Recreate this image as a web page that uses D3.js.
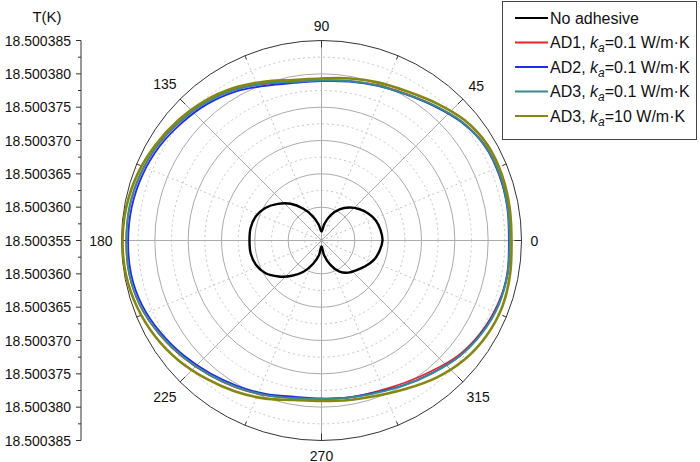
<!DOCTYPE html>
<html>
<head>
<meta charset="utf-8">
<script src="https://cdn.jsdelivr.net/npm/d3@7/dist/d3.min.js"></script>
<style>
  html, body { margin: 0; padding: 0; background: #fff; }
  svg { display: block; font-family: "Liberation Sans", Arial, sans-serif; }
</style>
</head>
<body>
<svg id="chart" width="700" height="462"></svg>
<script>
// ---- data (angle in degrees, temperature in K) ----
const angles = [0,10,20,30,40,50,60,70,80,90,100,110,120,130,140,150,160,170,
                180,190,200,210,220,230,240,250,260,270,280,290,300,310,320,330,340,350];

const noAdhesive = [18.50036415,18.500364,18.5003637,18.5003631,18.50036235,18.50036145,18.5003604,18.50035905,18.50035755,18.50035635,
  18.5003574,18.5003589,18.50036055,18.5003622,18.50036355,18.50036475,18.5003655,18.5003658,18.5003658,18.5003658,
  18.5003655,18.50036475,18.5003634,18.5003619,18.5003604,18.50035875,18.50035725,18.5003559,18.50035725,18.5003589,
  18.5003604,18.5003613,18.5003619,18.50036265,18.5003634,18.50036385];

const ad1 = [18.5003832,18.5003834,18.5003835,18.5003834,18.5003826,18.5003814,18.5003804,18.5003798,18.5003793,18.5003790,
  18.5003792,18.5003800,18.5003811,18.5003820,18.5003827,18.5003834,18.5003839,18.5003842,18.5003843,18.5003843,
  18.5003839,18.5003831,18.5003822,18.5003813,18.5003805,18.5003797,18.5003790,18.5003788,18.5003789,18.5003791,
  18.5003797,18.5003806,18.5003818,18.5003826,18.5003831,18.5003834];

const ad2 = [18.5003831,18.5003833,18.5003834,18.5003833,18.5003825,18.5003813,18.5003803,18.5003797,18.5003792,18.5003789,
  18.5003790,18.5003797,18.5003808,18.5003817,18.5003824,18.5003831,18.5003836,18.5003839,18.5003840,18.5003840,
  18.5003836,18.5003828,18.5003819,18.5003810,18.5003802,18.5003795,18.5003788,18.5003787,18.5003789,18.5003792,
  18.5003800,18.5003809,18.5003820,18.5003827,18.5003832,18.5003833];

const ad3Low = [18.5003832,18.50038335,18.5003835,18.50038335,18.5003826,18.5003814,18.50038035,18.50037975,18.5003793,18.500379,
  18.50037915,18.50038005,18.5003811,18.500382,18.50038275,18.50038343,18.50038395,18.50038425,18.50038425,18.50038425,
  18.50038388,18.50038305,18.50038215,18.50038125,18.50038043,18.50037968,18.500379,18.50037878,18.50037893,18.5003793,
  18.50038005,18.50038095,18.500382,18.5003828,18.50038328,18.50038335];

const ad3High = [18.5003835,18.50038365,18.5003838,18.50038373,18.50038305,18.50038185,18.5003808,18.5003802,18.50037968,18.5003793,
  18.50037945,18.50038035,18.5003814,18.5003823,18.50038305,18.50038373,18.50038433,18.5003847,18.50038485,18.50038478,
  18.5003844,18.5003838,18.50038298,18.500382,18.5003811,18.5003802,18.5003793,18.50037908,18.5003793,18.50037975,
  18.50038065,18.50038185,18.5003829,18.50038358,18.50038388,18.50038373];

const radialTicks = [18.500355,18.500360,18.500365,18.500370,18.500375,18.500380,18.500385];
const radialTickLabels = ["18.500355","18.500360","18.500365","18.500370","18.500375","18.500380","18.500385"];
const angleTicks = [0,45,90,135,180,225,270,315];
const angleTickLabels = ["0","45","90","135","180","225","270","315"];

const seriesNames = ["No adhesive","AD1","AD2","AD3","AD3"];
const seriesK = ["", "0.1", "0.1", "0.1", "10"];
const seriesColors = ["#000000","#e3262b","#1f2fe6","#3a8a8c","#868612"];
const seriesData = [noAdhesive, ad1, ad2, ad3Low, ad3High];

// ---- layout ----
const svg = d3.select("#chart");
const cx = 321.5, cy = 240.5, R = 200;
const rScale = d3.scaleLinear().domain([18.500355, 18.500385]).range([0, R]);
const toRad = d => (90 - d) * Math.PI / 180; // d3 radial angle (clockwise from 12 o'clock)

const g = svg.append("g").attr("transform", `translate(${cx},${cy})`);

// grid rings: solid at major, dotted at minor
const minorRings = d3.range(0, 6).map(i => 18.5003575 + 0.000005 * i);
g.selectAll("circle.minor").data(minorRings).enter().append("circle")
  .attr("r", d => rScale(d)).attr("fill", "none")
  .attr("stroke", "#c4c4c4").attr("stroke-width", 1).attr("stroke-dasharray", "2,3");
g.selectAll("circle.major").data(radialTicks.slice(1, -1)).enter().append("circle")
  .attr("r", d => rScale(d)).attr("fill", "none")
  .attr("stroke", "#ababab").attr("stroke-width", 1);

// spokes
const minorSpokes = d3.range(0, 360, 45).map(a => a + 22.5);
g.selectAll("line.ms").data(minorSpokes).enter().append("line")
  .attr("x1", 0).attr("y1", 0)
  .attr("x2", d => R * Math.cos(d * Math.PI / 180)).attr("y2", d => -R * Math.sin(d * Math.PI / 180))
  .attr("stroke", "#c4c4c4").attr("stroke-width", 1).attr("stroke-dasharray", "2,3");
g.selectAll("line.sp").data(angleTicks).enter().append("line")
  .attr("x1", 0).attr("y1", 0)
  .attr("x2", d => R * Math.cos(d * Math.PI / 180)).attr("y2", d => -R * Math.sin(d * Math.PI / 180))
  .attr("stroke", "#ababab").attr("stroke-width", 1);

// outer circle + ticks
g.append("circle").attr("r", R).attr("fill", "none").attr("stroke", "#333").attr("stroke-width", 1);
g.selectAll("line.tk").data(angleTicks).enter().append("line")
  .attr("x1", d => R * Math.cos(d * Math.PI / 180)).attr("y1", d => -R * Math.sin(d * Math.PI / 180))
  .attr("x2", d => (R - 7) * Math.cos(d * Math.PI / 180)).attr("y2", d => -(R - 7) * Math.sin(d * Math.PI / 180))
  .attr("stroke", "#333").attr("stroke-width", 1);
g.selectAll("line.mtk").data(minorSpokes).enter().append("line")
  .attr("x1", d => R * Math.cos(d * Math.PI / 180)).attr("y1", d => -R * Math.sin(d * Math.PI / 180))
  .attr("x2", d => (R - 4) * Math.cos(d * Math.PI / 180)).attr("y2", d => -(R - 4) * Math.sin(d * Math.PI / 180))
  .attr("stroke", "#333").attr("stroke-width", 1);

// angle labels
const labelFont = 14;
angleTicks.forEach((a, i) => {
  const t = angleTickLabels[i];
  const hw = t.length * labelFont * 0.556 / 2, hh = 6;
  const rad = a * Math.PI / 180;
  const rr = R + 9 + hw * Math.abs(Math.cos(rad)) + hh * Math.abs(Math.sin(rad));
  g.append("text")
    .attr("x", rr * Math.cos(rad)).attr("y", -rr * Math.sin(rad))
    .attr("text-anchor", "middle").attr("dominant-baseline", "central")
    .attr("font-size", labelFont).attr("fill", "#111").text(t);
});

// series
const line = d3.lineRadial()
  .angle(d => toRad(d[0]))
  .radius(d => rScale(d[1]))
  .curve(d3.curveCatmullRomClosed.alpha(0.5));
const widths = [2.4, 1.6, 1.8, 2.0, 2.6];
seriesData.forEach((vals, i) => {
  g.append("path")
    .datum(angles.map((a, j) => [a, vals[j]]))
    .attr("d", line).attr("fill", "none")
    .attr("stroke", seriesColors[i]).attr("stroke-width", widths[i])
    .attr("stroke-linejoin", "round");
});

// left radial axis (mirrored)
const axisX = 81;
const yScaleTop = d3.scaleLinear().domain([18.500355, 18.500385]).range([cy, cy - R]);
const yScaleBot = d3.scaleLinear().domain([18.500355, 18.500385]).range([cy, cy + R]);
const ax = svg.append("g");
ax.append("line").attr("x1", axisX).attr("x2", axisX).attr("y1", cy - R).attr("y2", cy + R)
  .attr("stroke", "#333").attr("stroke-width", 1);
const minorVals = d3.range(0, 6).map(i => 18.5003575 + i * 0.000005);
[yScaleTop, yScaleBot].forEach((sc, k) => {
  radialTicks.forEach((v, i) => {
    if (k === 1 && i === 0) return; // centre label only once
    ax.append("line").attr("x1", axisX - 5).attr("x2", axisX).attr("y1", sc(v)).attr("y2", sc(v))
      .attr("stroke", "#333");
    ax.append("text").attr("x", axisX - 10).attr("y", sc(v)).attr("text-anchor", "end")
      .attr("dominant-baseline", "central").attr("font-size", 14).attr("fill", "#111")
      .text(radialTickLabels[i]);
  });
  minorVals.forEach(v => {
    ax.append("line").attr("x1", axisX - 3).attr("x2", axisX).attr("y1", sc(v)).attr("y2", sc(v))
      .attr("stroke", "#333");
  });
});
ax.append("text").attr("x", 47).attr("y", 16).attr("text-anchor", "middle")
  .attr("dominant-baseline", "central").attr("font-size", 15).attr("fill", "#111").text("T(K)");

// legend
const lg = svg.append("g");
lg.append("rect").attr("x", 502.5).attr("y", 1.5).attr("width", 194).attr("height", 138)
  .attr("fill", "#fff").attr("stroke", "#444").attr("stroke-width", 1);
seriesNames.forEach((name, i) => {
  const y = 18 + i * 24.5;
  lg.append("line").attr("x1", 515).attr("x2", 548).attr("y1", y).attr("y2", y)
    .attr("stroke", seriesColors[i]).attr("stroke-width", 2);
  const t = lg.append("text").attr("x", 550).attr("y", y + 5.5).attr("font-size", 16).attr("fill", "#111");
  if (i === 0) {
    t.text(name);
  } else {
    t.append("tspan").text(name + ", ");
    t.append("tspan").attr("font-style", "italic").text("k");
    t.append("tspan").attr("font-style", "italic").attr("font-size", 12).attr("dy", 4).text("a");
    t.append("tspan").attr("dy", -4).text("=" + seriesK[i] + " W/m\u00B7K");
  }
});
</script>
</body>
</html>
